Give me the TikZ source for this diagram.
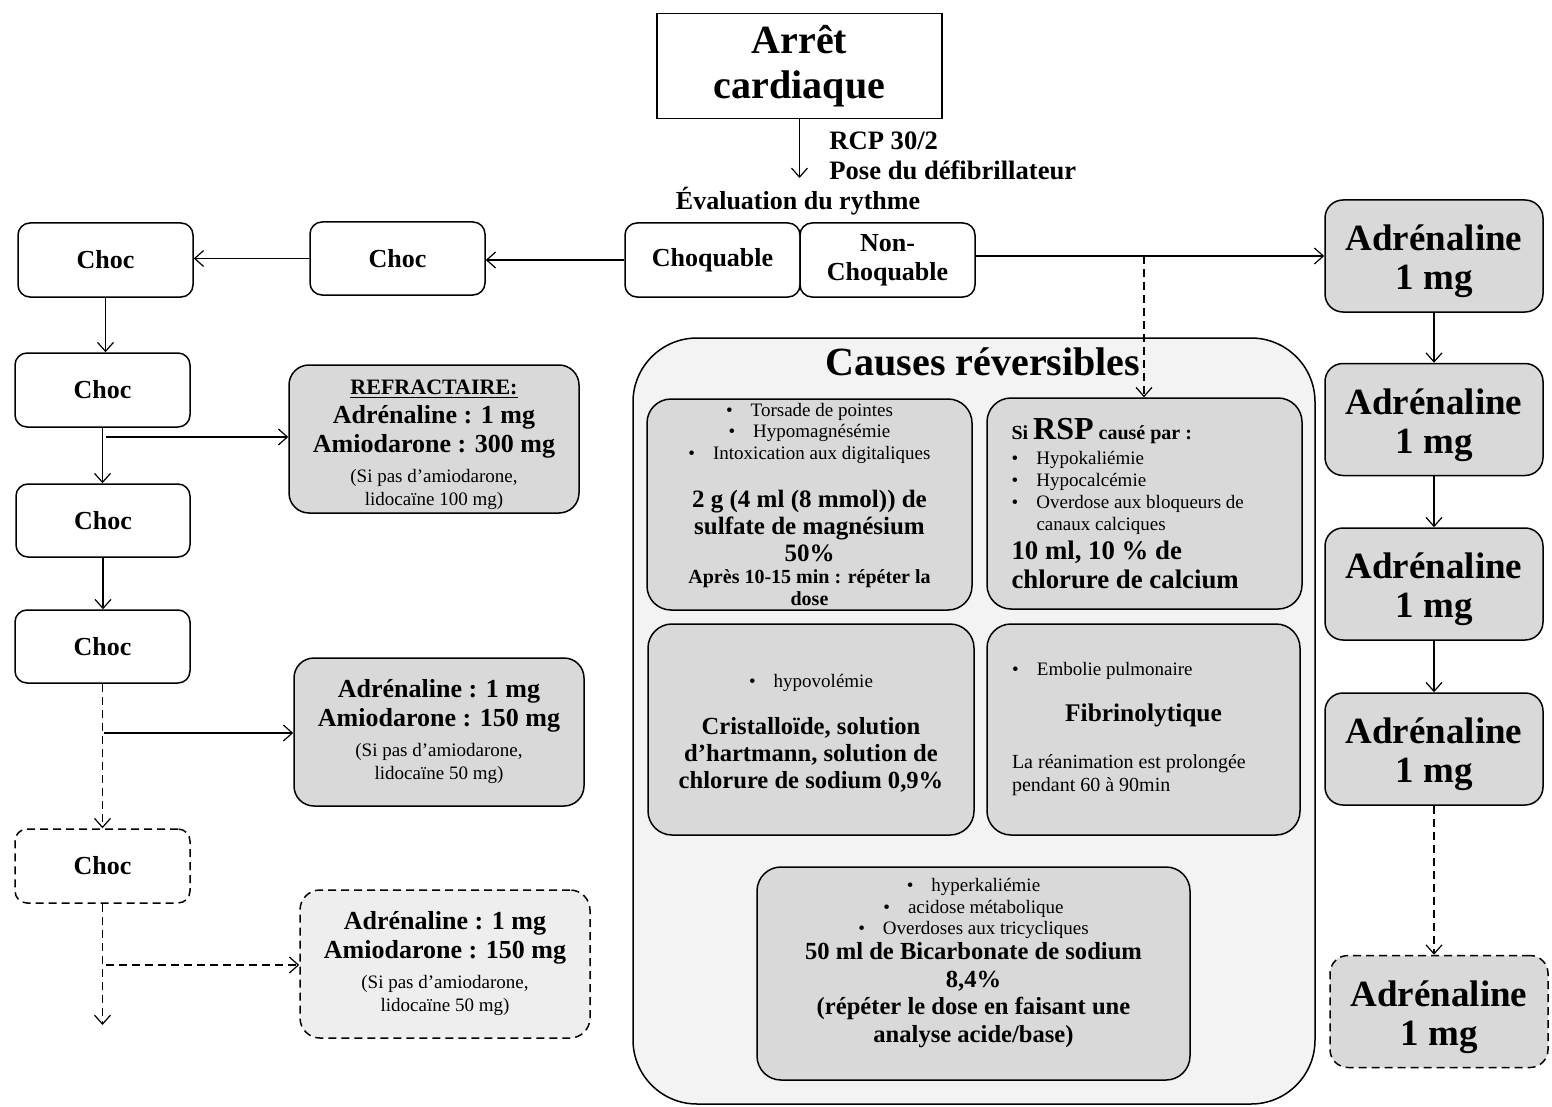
\documentclass[tikz,border=0pt]{standalone}
\usepackage{fontspec}
\setmainfont{Liberation Serif}
\usetikzlibrary{arrows.meta}
\definecolor{boxgray}{HTML}{D9D9D9}
\definecolor{biggray}{HTML}{F3F3F3}
\definecolor{lightgraytwo}{HTML}{EEEEEE}
\newcommand{\fs}[2]{\fontsize{#1}{#2}\selectfont}
\newcommand{\adrtext}{\rule{0pt}{18.5pt}Adrénaline\\1 mg}
\begin{document}
\begin{tikzpicture}[x=0.5pt,y=-0.5pt,
  base/.style={draw, line width=0.75pt, inner sep=0pt, align=flush center},
  wbox/.style={base, rounded corners=6pt, font=\bfseries\fs{13}{14.5}},
  gbox/.style={base, fill=boxgray, rounded corners=10pt},
  abox/.style={base, fill=boxgray, rounded corners=9pt, font=\bfseries\fs{18.5}{19.5}, minimum width=109pt, minimum height=56pt},
  ibox/.style={base, fill=boxgray, rounded corners=12pt},
  dashline/.style={dash pattern=on 4pt off 2.5pt},
  arr/.style={-{Straight Barb[length=4.5pt,width=8pt]}, line width=0.6pt},
]
\useasboundingbox (0,0) rectangle (1552,1107);

% top
\node[base, minimum width=142.5pt, minimum height=52.5pt, font=\bfseries\fs{20}{22.5}] (arret) at (799.5,66) {Arrêt\\cardiaque};
\coordinate (evalend) at (800,178);
\node[anchor=west, align=left, font=\bfseries\fs{13.3}{15}, inner sep=0pt] (rcp) at (829,156) {RCP 30/2\\Pose du défibrillateur};
\node[font=\bfseries\fs{13}{15}, inner sep=0pt] (eval) at (798,201) {Évaluation du rythme};

\node[wbox, minimum width=87.5pt, minimum height=37pt] (choq) at (712.5,260) {Choquable};
\node[wbox, minimum width=87.5pt, minimum height=37pt] (nonchoq) at (887.5,260) {Non-\\Choquable};

% left column
\node[wbox, minimum width=87.5pt, minimum height=36.5pt] (choc1m) at (397.5,258.5) {Choc};
\node[wbox, minimum width=87.5pt, minimum height=37pt] (choc1) at (105.5,260) {Choc};
\node[wbox, minimum width=87.5pt, minimum height=37pt] (choc2) at (102.5,390) {Choc};
\node[wbox, minimum width=87pt, minimum height=36.5pt] (choc3) at (103,520.5) {Choc};
\node[wbox, minimum width=87.5pt, minimum height=36.5pt] (choc4) at (102.5,646.5) {Choc};
\node[wbox, dashline, minimum width=87.5pt, minimum height=37pt] (choc5) at (102.5,866) {Choc};

\node[gbox, minimum width=145pt, minimum height=74pt, text width=145pt] (refr) at (434,439) {%
{\bfseries\fs{11}{12}\rule{0pt}{13pt}\underline{REFRACTAIRE:}\par}
{\bfseries\fs{13}{14.5}Adrénaline : 1 mg\\Amiodarone : 300 mg\par}
\vspace{3.5pt}
{\fs{9.5}{11.5}(Si pas d’amiodarone,\\lidocaïne 100 mg)\par}};

\node[gbox, minimum width=145pt, minimum height=74pt, text width=145pt] (adrl2) at (439,732) {%
{\bfseries\fs{13}{14.5}Adrénaline : 1 mg\\Amiodarone : 150 mg\par}
\vspace{3.5pt}
{\fs{9.5}{11.5}(Si pas d’amiodarone,\\lidocaïne 50 mg)\par}};

\node[gbox, dashline, fill=lightgraytwo, minimum width=145pt, minimum height=74pt, text width=145pt] (adrl3) at (445,964) {%
{\bfseries\fs{13}{14.5}Adrénaline : 1 mg\\Amiodarone : 150 mg\par}
\vspace{3.5pt}
{\fs{9.5}{11.5}(Si pas d’amiodarone,\\lidocaïne 50 mg)\par}};

% right column
\node[abox] (A1) at (1434,256) {\adrtext};
\node[abox] (A2) at (1434,419.5) {\adrtext};
\node[abox] (A3) at (1434,584) {\adrtext};
\node[abox] (A4) at (1434,749) {\adrtext};
\node[abox, dashline] (A5) at (1439,1011.5) {\adrtext};

% causes reversibles
\node[base, fill=biggray, rounded corners=32pt, minimum width=341pt, minimum height=383pt] (causes) at (974,721) {};
\node[font=\bfseries\fs{20}{22}, inner sep=0pt] (causestitle) at (983,362) {Causes réversibles};

\node[ibox, minimum width=162.5pt, minimum height=105.5pt, text width=158pt] (bA) at (809.5,504.5) {%
{\fs{9.5}{10.75}\textbullet\hspace{9pt}Torsade de pointes\\\textbullet\hspace{9pt}Hypomagnésémie\\\textbullet\hspace{9pt}Intoxication aux digitaliques\par}
\vspace{10.5pt}
{\bfseries\fs{12.5}{13.5}2 g (4 ml (8 mmol)) de\\sulfate de magnésium\\50\%\par}
{\bfseries\fs{10}{11}Après 10-15 min : répéter la\\dose\par}};

\node[ibox, minimum width=157.5pt, minimum height=105.5pt, text width=133pt, align=flush left] (bB) at (1144.5,503.5) {%
{\bfseries\fs{10}{12}Si {\fs{16}{12}RSP} causé par :\par}
\vspace{1.5pt}
{\fs{9.5}{11}\makebox[12.5pt][l]{\textbullet}Hypokaliémie\\
\makebox[12.5pt][l]{\textbullet}Hypocalcémie\\
\makebox[12.5pt][l]{\textbullet}Overdose aux bloqueurs de\\
\hspace*{12.5pt}canaux calciques\par}
{\bfseries\fs{13.4}{14.5}10 ml, 10 \% de\\chlorure de calcium\par}};

\node[ibox, minimum width=163pt, minimum height=105.5pt, text width=158pt] (bC) at (811,729.5) {%
{\fs{9.5}{11}\rule{0pt}{10pt}\textbullet\hspace{9pt}hypovolémie\par}
\vspace{10pt}
{\bfseries\fs{12.3}{13.5}Cristalloïde, solution\\d’hartmann, solution de\\chlorure de sodium 0,9\%\par}};

\node[ibox, minimum width=156.5pt, minimum height=105.5pt, text width=131.5pt, align=flush left] (bD) at (1143.5,729.5) {%
{\fs{9.5}{11}\makebox[12.5pt][l]{\textbullet}Embolie pulmonaire\par}
\vspace{9pt}
{\centering\bfseries\fs{12.7}{14}Fibrinolytique\par}
\vspace{12pt}
{\fs{10}{11.5}La réanimation est prolongée\\pendant 60 à 90min\par}};

\node[ibox, minimum width=216.5pt, minimum height=106.5pt] (bE) at (973.5,973.5) {};
\node[inner sep=0pt, text width=200pt, align=flush center] (bEtext) at (973.5,963) {%
{\fs{9.5}{10.75}\textbullet\hspace{9pt}hyperkaliémie\\\textbullet\hspace{9pt}acidose métabolique\\\textbullet\hspace{9pt}Overdoses aux tricycliques\par}
\vspace{-1.3pt}
{\bfseries\fs{12.3}{13.8}50 ml de Bicarbonate de sodium\\8,4\%\\(répéter le dose en faisant une\\analyse acide/base)\par}};

% connectors
\draw[arr] (arret.south) -- (arret.south |- evalend);
\draw[arr] (choq.west) -- (choq.west -| choc1m.east);
\draw[arr] (choc1m.west) -- (choc1m.west -| choc1.east);
\draw[arr] (choc1.south) -- (choc1.south |- choc2.north);
\draw[arr] (choc2.south) -- (choc2.south |- choc3.north);
\coordinate (br1) at (106,437);
\draw[arr] (br1) -- (br1 -| refr.west);
\draw[arr] (choc3.south) -- (choc3.south |- choc4.north);
\draw[arr, dashline] (choc4.south) -- (choc4.south |- choc5.north);
\coordinate (br2) at (104,733);
\draw[arr] (br2) -- (br2 -| adrl2.west);
\coordinate (end5) at (102,1025);
\draw[arr, dashline] (choc5.south) -- (choc5.south |- end5);
\coordinate (br3) at (106,965);
\draw[arr, dashline] (br3) -- (br3 -| adrl3.west);

\draw[arr] (nonchoq.east |- A1.west) -- (A1.west);
\coordinate (dsplit) at (1144,256);
\draw[arr, dashline] (dsplit) -- (dsplit |- bB.north);

\draw[arr] (A1.south) -- (A2.north);
\draw[arr] (A2.south) -- (A3.north);
\draw[arr] (A3.south) -- (A4.north);
\draw[arr, dashline] (A4.south) -- (A4.south |- A5.north);
\end{tikzpicture}
\end{document}
